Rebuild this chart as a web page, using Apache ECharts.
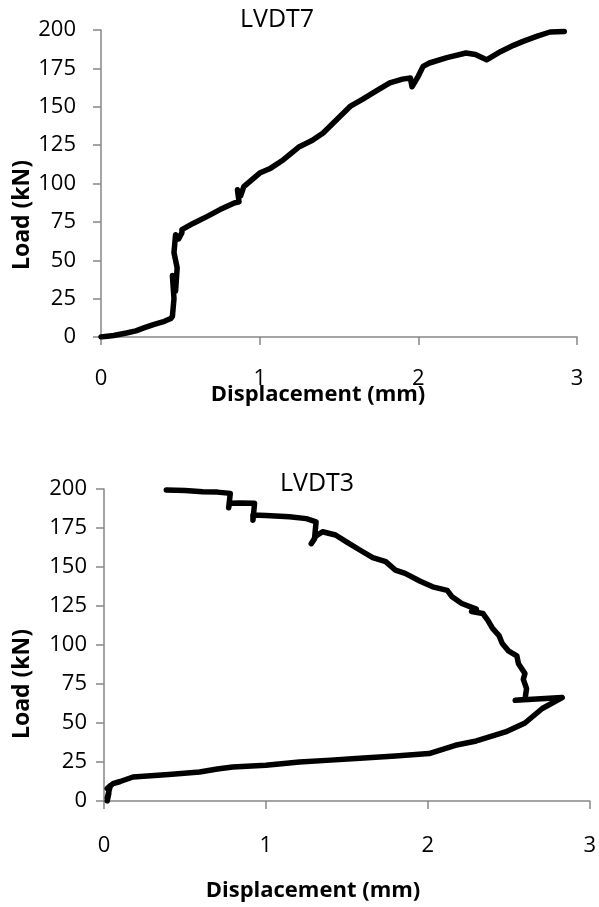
<!DOCTYPE html>
<html>
<head>
<meta charset="utf-8">
<script src="https://cdn.jsdelivr.net/npm/echarts@6/dist/echarts.min.js"></script>
<style>
  html, body { margin: 0; padding: 0; background: #fff; }
  #chart { width: 599px; height: 907px; }
</style>
</head>
<body>
<div id="chart"></div>
<script>
// LVDT7 (top panel)
var disp7 = [0, 0.08, 0.16, 0.22, 0.27, 0.33, 0.40, 0.44, 0.45, 0.46, 0.45, 0.47, 0.48, 0.46, 0.47, 0.49, 0.51, 0.51, 0.58, 0.67, 0.75, 0.84, 0.87, 0.86, 0.88, 0.90, 1.00, 1.07, 1.15, 1.25, 1.33, 1.40, 1.48, 1.57, 1.65, 1.73, 1.82, 1.90, 1.95, 1.96, 2.00, 2.03, 2.07, 2.18, 2.30, 2.36, 2.43, 2.52, 2.60, 2.66, 2.75, 2.83, 2.92];
var load7 = [0, 1, 2.6, 4, 5.9, 8, 10.2, 12, 13.4, 25, 40, 30, 45, 55, 66.6, 64, 68, 70, 74, 78.6, 83, 87.3, 88, 96, 92, 98, 106.8, 110, 115.5, 124, 128, 132.9, 141, 150.2, 155, 160, 165.5, 168, 168.7, 163, 170, 176.3, 178.5, 182, 185, 184, 180.6, 186, 190, 192.6, 196, 198.7, 199.1];

// LVDT3 (bottom panel)
var disp3 = [0.02, 0.03, 0.02, 0.04, 0.02, 0.056, 0.10, 0.179, 0.40, 0.59, 0.70, 0.795, 1.0, 1.207, 1.40, 1.556, 1.80, 2.008, 2.17, 2.30, 2.48, 2.60, 2.707, 2.83, 2.54, 2.60, 2.61, 2.59, 2.60, 2.56, 2.55, 2.50, 2.46, 2.44, 2.40, 2.37, 2.34, 2.27, 2.30, 2.21, 2.15, 2.12, 2.03, 1.95, 1.86, 1.80, 1.74, 1.66, 1.58, 1.50, 1.43, 1.35, 1.31, 1.28, 1.30, 1.31, 1.25, 1.145, 1.00, 0.92, 0.92, 0.93, 0.84, 0.775, 0.77, 0.78, 0.70, 0.61, 0.50, 0.385];
var load3 = [0, 5, 2, 10, 8, 11.1, 12.5, 15.4, 17, 18.6, 20.5, 21.8, 22.9, 25, 26.2, 27.2, 28.8, 30.4, 35.7, 38.5, 44.3, 50, 59.3, 66.3, 64.6, 65, 72, 78, 81.7, 88, 93, 96, 101, 106, 110.6, 116, 120.2, 121.5, 123, 126.6, 130.9, 135, 137.3, 141, 145.9, 148, 153.4, 156, 160.9, 166, 170.5, 172.6, 170, 165, 168, 179, 181, 182.2, 183, 183.3, 180, 190.8, 191, 190.8, 188, 197.2, 198, 198.3, 199, 199.4];

var xTicks = [0, 1, 2, 3];
var yTicks = [0, 25, 50, 75, 100, 125, 150, 175, 200];

function pairs(xs, ys) {
  return xs.map(function (x, i) { return [x, ys[i]]; });
}

var FONT = '"Open Sans", Lato, sans-serif';
var axisGrey = '#868686';

function makeX(gridIndex, labelMargin) {
  return {
    type: 'value', gridIndex: gridIndex,
    min: xTicks[0], max: xTicks[xTicks.length - 1], interval: 1,
    splitLine: { show: false },
    axisLine: { show: true, lineStyle: { color: axisGrey, width: 1.5 } },
    axisTick: { show: true, length: 8, lineStyle: { color: axisGrey, width: 1.5 } },
    axisLabel: { margin: labelMargin, fontSize: 22, color: '#000', fontFamily: FONT }
  };
}

function makeY(gridIndex, labelMargin) {
  return {
    type: 'value', gridIndex: gridIndex,
    min: yTicks[0], max: yTicks[yTicks.length - 1], interval: 25,
    splitLine: { show: false },
    axisLine: { show: true, lineStyle: { color: axisGrey, width: 1.5 } },
    axisTick: { show: true, length: 8, lineStyle: { color: axisGrey, width: 1.5 } },
    axisLabel: { margin: labelMargin, fontSize: 22, color: '#000', fontFamily: FONT }
  };
}

function curve(data, idx) {
  return {
    type: 'line', xAxisIndex: idx, yAxisIndex: idx,
    data: data, showSymbol: false, silent: true, animation: false,
    lineStyle: { color: '#000', width: 5.5, join: 'round', cap: 'round' }
  };
}

function label(text, x, y, opts) {
  opts = opts || {};
  return {
    type: 'text', x: x, y: y, rotation: opts.rotation || 0, z: 10,
    style: {
      text: text, fill: '#000',
      font: (opts.bold ? 'bold ' : '') + (opts.size || 23) + 'px ' + FONT,
      textAlign: 'center', textVerticalAlign: 'middle'
    }
  };
}

var chart = echarts.init(document.getElementById('chart'));
chart.setOption({
  animation: false,
  grid: [
    { left: 101, top: 30, width: 476, height: 307 },
    { left: 104, top: 489, width: 487, height: 312 }
  ],
  xAxis: [makeX(0, 31), makeX(1, 34)],
  yAxis: [makeY(0, 25), makeY(1, 17)],
  series: [
    curve(pairs(disp7, load7), 0),
    curve(pairs(disp3, load3), 1)
  ],
  graphic: [
    label('LVDT7', 277, 20, { size: 25 }),
    label('LVDT3', 317, 484, { size: 25 }),
    label('Displacement (mm)', 318, 395, { bold: true, size: 22 }),
    label('Displacement (mm)', 313, 891, { bold: true, size: 22 }),
    label('Load (kN)', 22, 215, { bold: true, size: 23, rotation: Math.PI / 2 }),
    label('Load (kN)', 22, 684, { bold: true, size: 23, rotation: Math.PI / 2 })
  ]
});
</script>
</body>
</html>
